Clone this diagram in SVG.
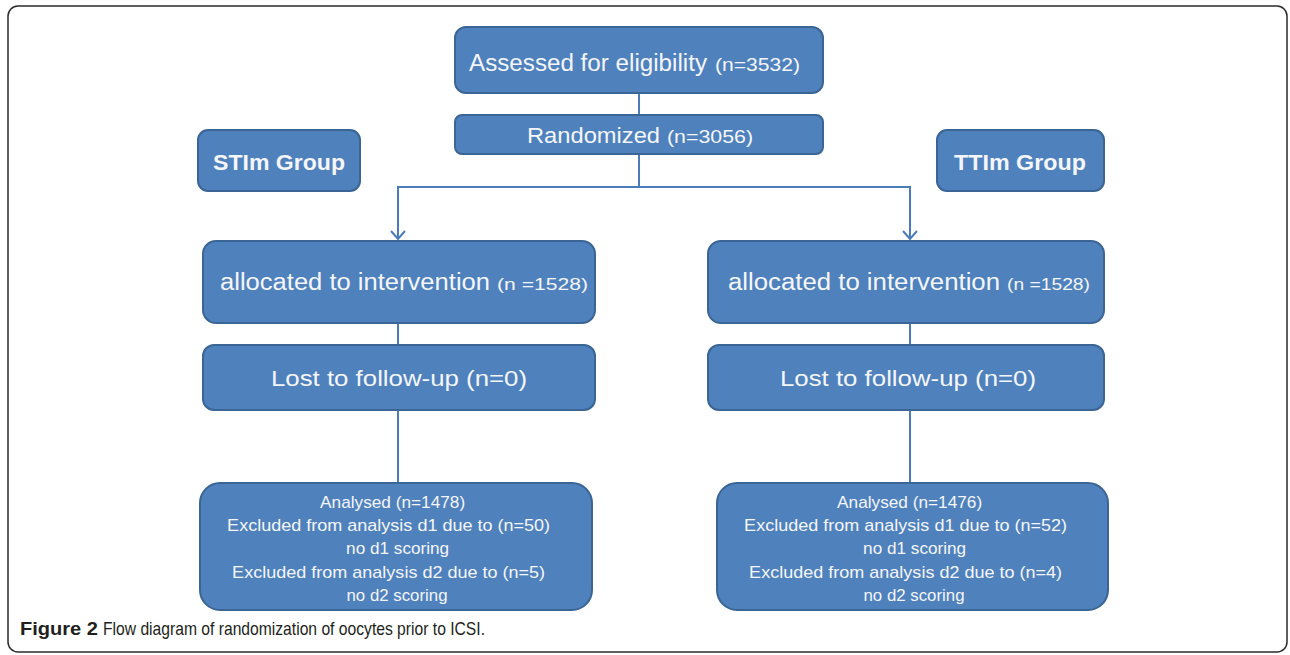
<svg xmlns="http://www.w3.org/2000/svg" width="1290" height="655" viewBox="0 0 1290 655">
<defs>
<style>
.box{fill:#4F81BD;stroke:#3A6595;stroke-width:2}
.t{fill:#F4F6FA;font-family:"Liberation Sans",Arial,sans-serif;text-anchor:middle}
.b{font-weight:bold}
.ln{fill:none;stroke:#4A7CB8;stroke-width:2}
.cap{font-family:"Liberation Sans",Arial,sans-serif;font-size:19px;fill:#231F20}
</style>
<marker id="arr" markerWidth="12" markerHeight="16" refX="10" refY="8" orient="auto" markerUnits="userSpaceOnUse" viewBox="0 0 12 16">
<polyline points="2,1 10,8 2,15" fill="none" stroke="#4A7CB8" stroke-width="2"/>
</marker>
</defs>
<rect x="0" y="0" width="1290" height="655" fill="#fff"/>
<rect x="8" y="6" width="1279" height="646" rx="10" fill="none" stroke="#2b2b2b" stroke-width="1.5"/>
<g id="connectors">
<line class="ln" x1="639" y1="93" x2="639" y2="115"/>
<polyline class="ln" points="639,154 639,187 398,187 398,239" marker-end="url(#arr)"/>
<polyline class="ln" points="639,187 910,187 910,239" marker-end="url(#arr)"/>
<line class="ln" x1="398" y1="323" x2="398" y2="345"/>
<line class="ln" x1="910" y1="323" x2="910" y2="345"/>
<line class="ln" x1="398" y1="410" x2="398" y2="483"/>
<line class="ln" x1="910" y1="410" x2="910" y2="483"/>
</g>
<g id="assessed">
<rect class="box" x="455" y="27" width="368" height="66" rx="11"/>
<text class="t" y="71"><tspan x="469" style="text-anchor:start" font-size="23" textLength="238" lengthAdjust="spacingAndGlyphs">Assessed for eligibility</tspan><tspan x="715" style="text-anchor:start" font-size="19" textLength="85" lengthAdjust="spacingAndGlyphs">(n=3532)</tspan></text>
</g>
<g id="randomized">
<rect class="box" x="455" y="115" width="368" height="39" rx="7"/>
<text class="t" y="143"><tspan x="527" style="text-anchor:start" font-size="22" textLength="133" lengthAdjust="spacingAndGlyphs">Randomized</tspan><tspan x="667" style="text-anchor:start" font-size="19" textLength="86" lengthAdjust="spacingAndGlyphs">(n=3056)</tspan></text>
</g>
<g id="stim">
<rect class="box" x="198" y="130" width="162" height="61" rx="10"/>
<text class="t b" x="279" y="170" font-size="22" textLength="132" lengthAdjust="spacingAndGlyphs">STIm Group</text>
</g>
<g id="ttim">
<rect class="box" x="937" y="130" width="167" height="61" rx="10"/>
<text class="t b" x="1020" y="170" font-size="22" textLength="132" lengthAdjust="spacingAndGlyphs">TTIm Group</text>
</g>
<g id="alloc-left">
<rect class="box" x="203" y="241" width="392" height="82" rx="13"/>
<text class="t" y="290"><tspan x="220" style="text-anchor:start" font-size="23" textLength="270" lengthAdjust="spacingAndGlyphs">allocated to intervention</tspan><tspan x="497" style="text-anchor:start" font-size="17" textLength="91" lengthAdjust="spacingAndGlyphs">(n =1528)</tspan></text>
</g>
<g id="alloc-right">
<rect class="box" x="708" y="241" width="396" height="82" rx="13"/>
<text class="t" y="290"><tspan x="728" style="text-anchor:start" font-size="23" textLength="272" lengthAdjust="spacingAndGlyphs">allocated to intervention</tspan><tspan x="1007" style="text-anchor:start" font-size="17" textLength="83" lengthAdjust="spacingAndGlyphs">(n =1528)</tspan></text>
</g>
<g id="lost-left">
<rect class="box" x="203" y="345" width="392" height="65" rx="11"/>
<text class="t" x="399" y="386" font-size="22" textLength="256" lengthAdjust="spacingAndGlyphs">Lost to follow-up (n=0)</text>
</g>
<g id="lost-right">
<rect class="box" x="708" y="345" width="396" height="65" rx="11"/>
<text class="t" x="908" y="386" font-size="22" textLength="256" lengthAdjust="spacingAndGlyphs">Lost to follow-up (n=0)</text>
</g>
<g id="analysed-left">
<rect class="box" x="200" y="483" width="392" height="127" rx="20"/>
<text class="t" font-size="17">
<tspan x="395" y="508" textLength="145" lengthAdjust="spacingAndGlyphs">Analysed (n=1478)</tspan>
<tspan x="391" y="531" textLength="323" lengthAdjust="spacingAndGlyphs">Excluded from analysis  d1 due to (n=50)</tspan>
<tspan x="400" y="554" textLength="103" lengthAdjust="spacingAndGlyphs">no d1 scoring</tspan>
<tspan x="391" y="578" textLength="313" lengthAdjust="spacingAndGlyphs">Excluded from analysis d2 due to (n=5)</tspan>
<tspan x="397" y="601" textLength="101" lengthAdjust="spacingAndGlyphs">no d2 scoring</tspan>
</text>
</g>
<g id="analysed-right">
<rect class="box" x="717" y="483" width="391" height="127" rx="20"/>
<text class="t" font-size="17">
<tspan x="912" y="508" textLength="145" lengthAdjust="spacingAndGlyphs">Analysed (n=1476)</tspan>
<tspan x="908" y="531" textLength="323" lengthAdjust="spacingAndGlyphs">Excluded from analysis  d1 due to (n=52)</tspan>
<tspan x="917" y="554" textLength="103" lengthAdjust="spacingAndGlyphs">no d1 scoring</tspan>
<tspan x="908" y="578" textLength="313" lengthAdjust="spacingAndGlyphs">Excluded from analysis d2 due to (n=4)</tspan>
<tspan x="914" y="601" textLength="101" lengthAdjust="spacingAndGlyphs">no d2 scoring</tspan>
</text>
</g>
<text class="cap" y="635"><tspan x="20" font-weight="bold" textLength="78" lengthAdjust="spacingAndGlyphs">Figure 2</tspan><tspan x="103" textLength="382" lengthAdjust="spacingAndGlyphs">Flow diagram of randomization of oocytes prior to ICSI.</tspan></text>
</svg>
